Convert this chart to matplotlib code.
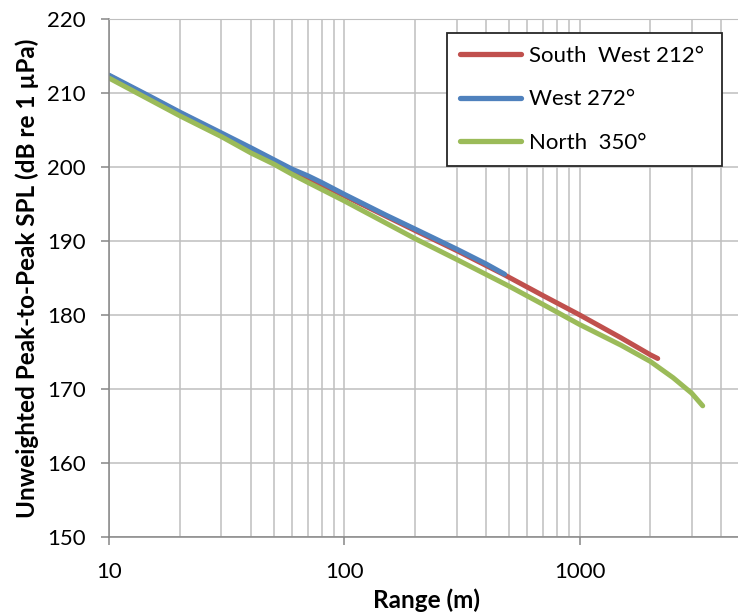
import numpy as np
import matplotlib
matplotlib.use("Agg")
import matplotlib.pyplot as plt

# values
sw_range = [10, 20, 30, 50, 100, 200, 300, 480, 700, 1000, 1500, 2000, 2150]
sw_spl = [212.3, 207.3, 204.4, 200.8, 196.1, 191.4, 188.7, 185.4, 182.6, 180.0, 176.9, 174.6, 174.1]

w_range = [10, 15, 20, 30, 40, 50, 60, 70, 80, 100, 150, 200, 300, 400, 480]
w_spl = [212.4, 209.5, 207.4, 204.6, 202.6, 201.0, 199.7, 198.8, 197.9, 196.3, 193.5, 191.6, 188.9, 186.9, 185.5]

n_range = [10, 20, 30, 40, 50, 60, 70, 100, 200, 300, 500, 700, 1000, 1500, 2000, 2500, 3000, 3340]
n_spl = [212.0, 206.9, 204.1, 201.9, 200.4, 199.0, 197.9, 195.4, 190.3, 187.5, 183.9, 181.4, 178.7, 175.9, 173.7, 171.5, 169.4, 167.7]

labels = ["South  West 212°", "West 272°", "North  350°"]
colors = ["#C0504D", "#4F81BD", "#9BBB59"]

plt.rcParams['font.family'] = ['Lato', 'DejaVu Sans']

fig = plt.figure(figsize=(7.38, 6.15), dpi=100)
ax = fig.add_axes([0.1481, 0.1273, 1.008 - 0.1481, 0.969 - 0.1273])

ax.plot(sw_range, sw_spl, color=colors[0], lw=3.6, solid_capstyle='round', label=labels[0])
ax.plot(w_range, w_spl, color=colors[1], lw=3.6, solid_capstyle='round', label=labels[1])
ax.plot(n_range, n_spl, color=colors[2], lw=3.6, solid_capstyle='round', label=labels[2])

ax.set_xscale('log')
ax.set_xlim(10, 5000)
ax.set_ylim(150, 220)
ax.set_yticks(np.arange(150, 221, 10))
ax.set_xticks([10, 100, 1000])
ax.set_xticklabels(['10', '100', '1000'])
ax.xaxis.set_minor_formatter(matplotlib.ticker.NullFormatter())

ax.grid(True, which='both', axis='x', color='#bfbfbf', lw=1.1)
ax.grid(True, which='major', axis='y', color='#bfbfbf', lw=1.1)
ax.set_axisbelow(True)

for s in ['left', 'bottom']:
    ax.spines[s].set_color('#868686')
    ax.spines[s].set_linewidth(1.1)
ax.spines['top'].set_color('#bfbfbf')
ax.spines['right'].set_visible(False)

ax.tick_params(axis='both', which='major', labelsize=16, length=6, width=1.1,
               color='#868686', pad=11)
ax.tick_params(axis='x', which='minor', length=0)
ax.tick_params(axis='x', which='major', pad=12)

ax.set_xlabel('Range (m)', fontsize=17.5, fontweight='bold', labelpad=5)
ax.set_ylabel('Unweighted Peak-to-Peak SPL (dB re 1 µPa)', fontsize=17.5,
              fontweight='bold', labelpad=6)

leg = ax.legend(loc='upper left', bbox_to_anchor=(0.532, 0.9735, 0.433, 0.0),
                mode='expand', fontsize=16, handlelength=2.75, handletextpad=0.35,
                labelspacing=1.05, borderpad=0.6, fancybox=False, framealpha=1,
                edgecolor='#262626', borderaxespad=0)
leg.get_frame().set_linewidth(1.3)
for h in leg.get_lines():
    h.set_linewidth(3.8)

fig.savefig('out.png', dpi=100)
